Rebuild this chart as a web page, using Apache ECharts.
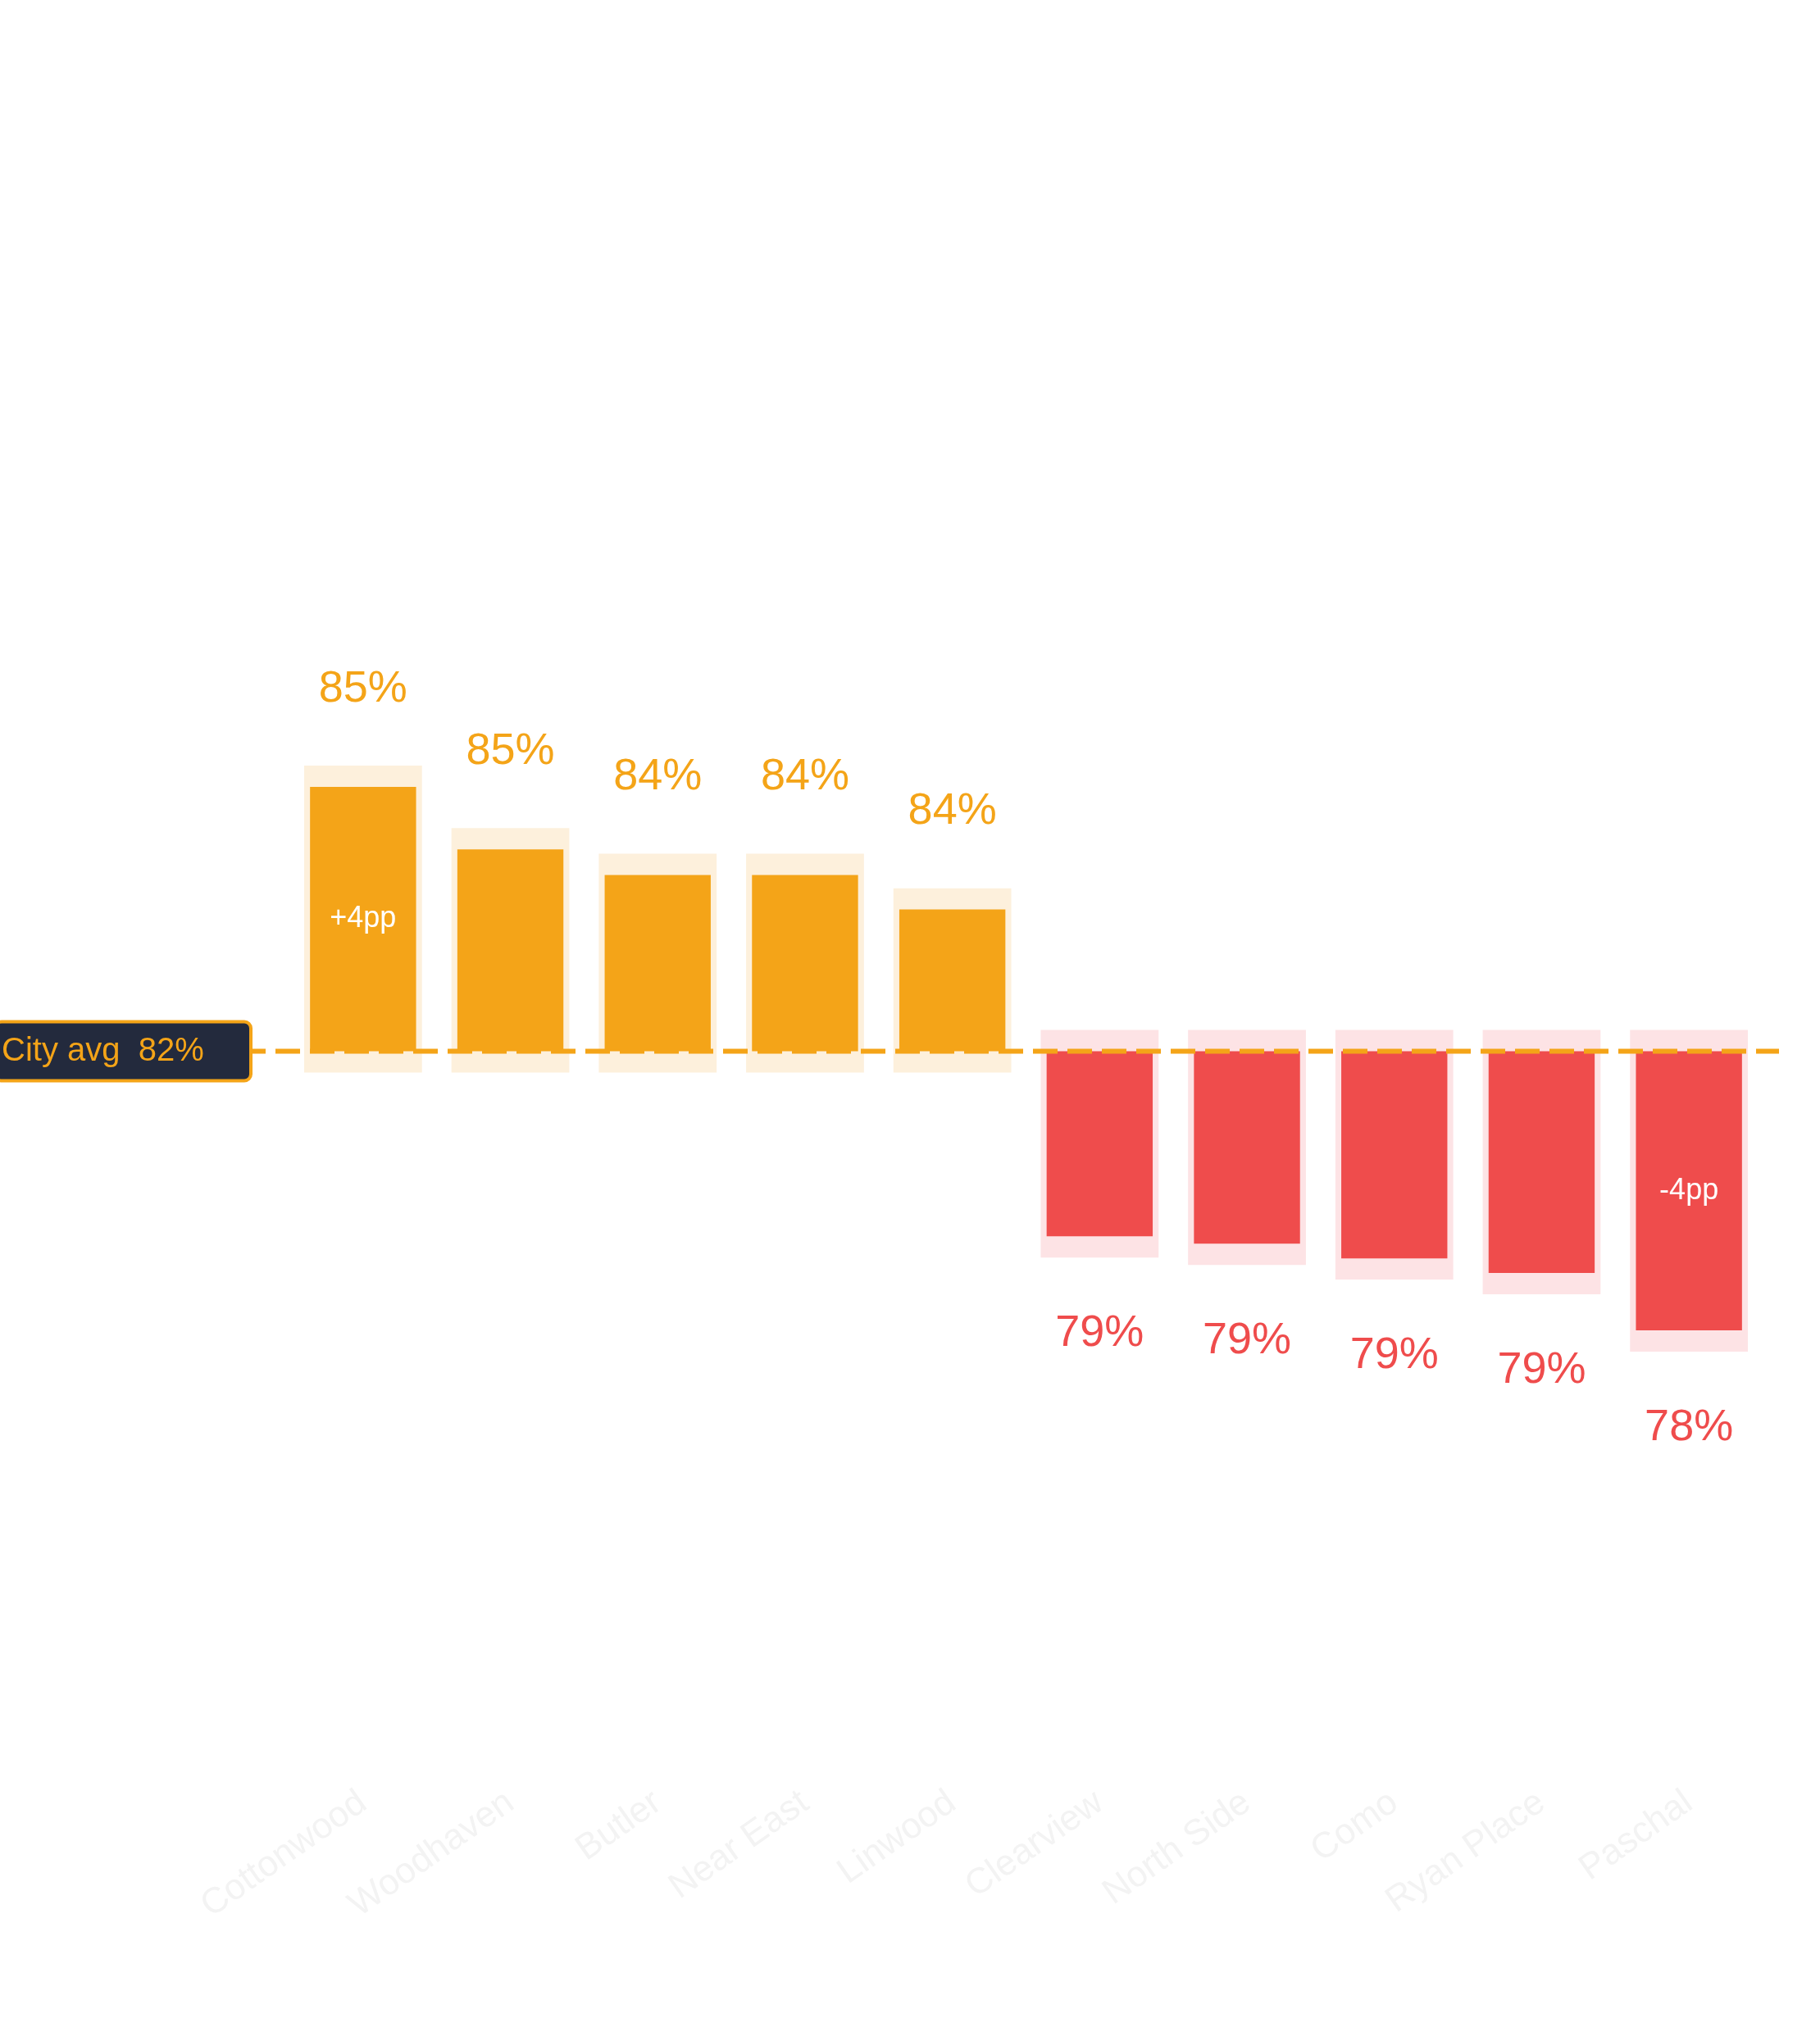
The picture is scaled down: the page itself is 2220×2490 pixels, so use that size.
<!DOCTYPE html>
<html><head><meta charset="utf-8">
<script src="https://cdn.jsdelivr.net/npm/echarts@6/dist/echarts.min.js"></script>
<style>html,body{margin:0;padding:0;background:#fff}#c{width:2220px;height:2490px}</style>
</head><body><div id="c"></div>
<script>
const categories = ['Cottonwood','Woodhaven','Butler','Near East','Linwood','Clearview','North Side','Como','Ryan Place','Paschal'];
const values = [85.4, 84.55, 84.2, 84.2, 83.73, 79.28, 79.18, 78.98, 78.78, 78.0];
const cityAvg = 81.8;
const cityAvgLabel = 'City avg  82%';
const devs = values.map(v => +(v - cityAvg).toFixed(2));
const ORANGE = '#F4A418', RED = '#EF4C4C', BG_O = '#FDF0DC', BG_R = '#FDE3E5';
const PAD = 0.29;
const last = values.length - 1;

const chart = echarts.init(document.getElementById('c'), null, {renderer:'canvas'});
chart.setOption({
  animation:false,
  backgroundColor:'#fff',
  grid:{left:353, right:70, top:745, bottom:670},
  xAxis:{type:'category', data:categories, axisLine:{show:false}, axisTick:{show:false},
    axisLabel:{rotate:35, margin:375, color:'#f3f3f3', fontSize:44, fontFamily:'Liberation Sans, Arial'}},
  yAxis:{type:'value', min:-6, max:6, show:false, splitLine:{show:false}},
  series:[
    {type:'custom', z:1, data:devs.map((d,i)=>[i,d]),
     renderItem:(params, api)=>{
       const i = api.value(0), d = api.value(1);
       const top = d>0 ? d+PAD : PAD, bot = d>0 ? -PAD : d-PAD;
       const p1 = api.coord([i, top]), p2 = api.coord([i, bot]);
       const w = api.size([1,0])[0]*0.8;
       return {type:'rect', shape:{x:p1[0]-w/2, y:p1[1], width:w, height:p2[1]-p1[1]},
         style:{fill: d>0?BG_O:BG_R}};
     }},
    {type:'bar', z:2, barWidth:'72%',
     data:devs.map((d,i)=>({value:d, itemStyle:{color:d>0?ORANGE:RED},
       label:{show:true, position:d>0?'top':'bottom', distance:92, color:d>0?ORANGE:RED,
         fontSize:54, fontFamily:'Liberation Sans, Arial', formatter:()=>Math.round(values[i])+'%'}})),
    },
    {type:'bar', z:3, barWidth:'72%', barGap:'-100%', itemStyle:{color:'transparent'},
     data:devs.map((d,i)=>({value:d, label:{show:(i===0||i===last), position:'inside', color:'#fff',
       fontSize:36, fontFamily:'Liberation Sans, Arial',
       formatter:()=>(d>0?'+':'')+Math.round(d)+'pp'}}))}
  ]
});
const y0 = chart.convertToPixel({yAxisIndex:0}, 0);
chart.setOption({graphic:[
  {type:'line', z:10, shape:{x1:0,y1:y0,x2:2170,y2:y0}, style:{stroke:ORANGE, lineWidth:6, lineDash:[30,12]}},
  {type:'rect', z:11, shape:{x:-6,y:y0-36,width:312,height:72,r:8}, style:{fill:'#232a3d', stroke:ORANGE, lineWidth:4}},
  {type:'text', z:12, x:2, y:y0, style:{text:cityAvgLabel, fill:ORANGE, fontSize:40, fontFamily:'Liberation Sans, Arial', verticalAlign:'middle'}}
]});
</script></body></html>
